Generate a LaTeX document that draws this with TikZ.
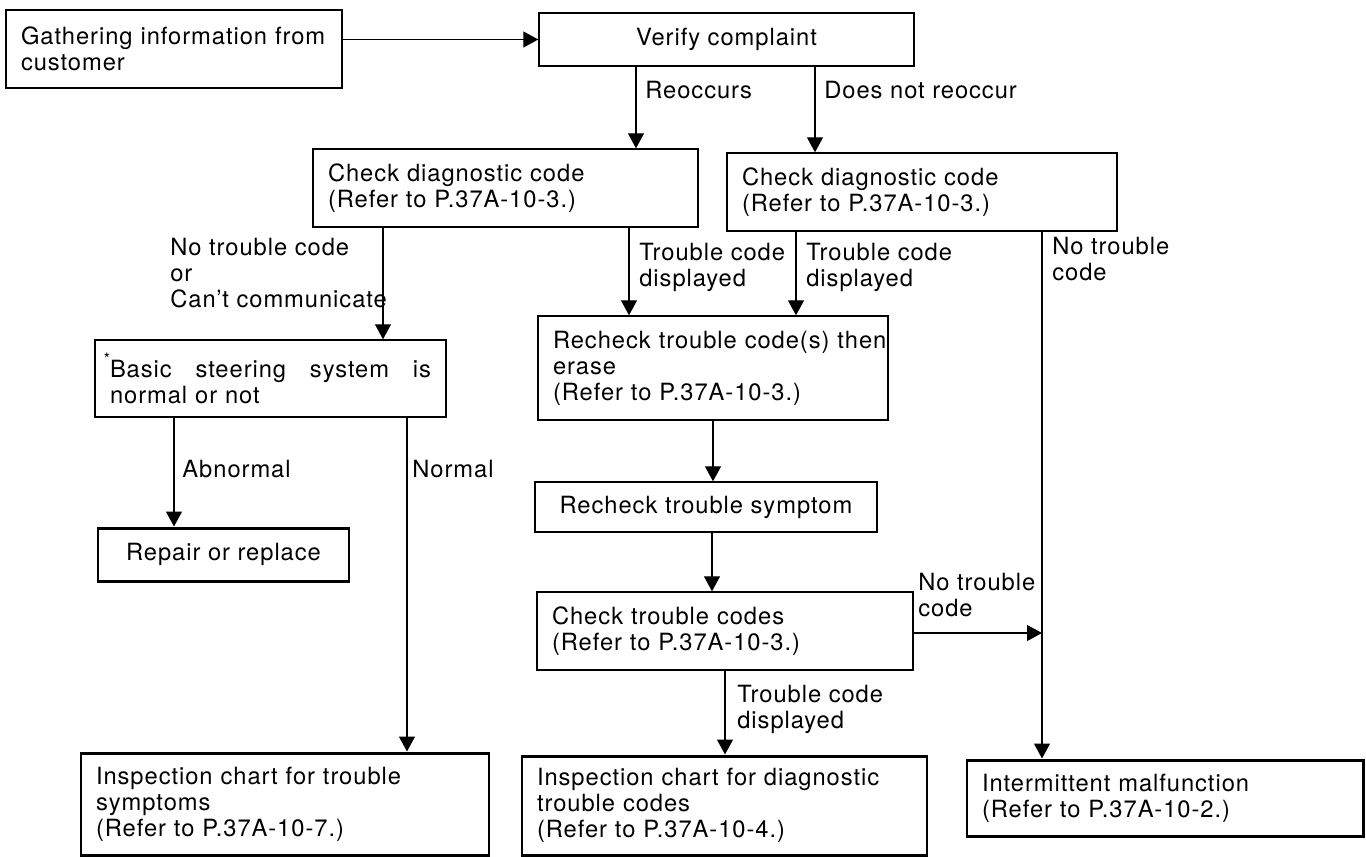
\documentclass[tikz,border=0pt]{standalone}
\usepackage{fontspec}
\setmainfont{TeX Gyre Heros}[LetterSpace=4.0]
\usepackage{tikz}
\usetikzlibrary{arrows.meta}
\usetikzlibrary{positioning}
\newcommand{\flowfont}{\fontsize{13.5}{14.8}\selectfont}
\tikzset{
	flowbox/.style={rectangle, draw, line width=0.8pt, align=left, inner xsep=0.3cm, inner ysep=0pt, font=\flowfont},
	endbox/.style={flowbox, line width=1.7pt},
	midbox/.style={flowbox, align=center},
	lbl/.style={align=left, anchor=north west, inner sep=0pt, font=\flowfont},
	arr/.style={-{Triangle[length=0.3cm, width=0.32cm]}, line width=0.7pt}
}
\begin{document}
\begin{tikzpicture}
		\useasboundingbox (0,0) rectangle (27.32,-17.14);
		\node[endbox, text width=6.12cm, minimum height=1.56cm] at (3.48,-0.98) (gather) {\mbox{Gathering information from}\\customer};
		\node[midbox, minimum width=7.5cm, minimum height=1.06cm] at (14.53,-0.79) (verify) {Verify complaint};
		\node[flowbox, text width=7.1cm, minimum height=1.56cm] at (10.11,-3.76) (chkA) {Check diagnostic code\\(Refer to P.37A-10-3.)};
		\node[flowbox, text width=7.2cm, minimum height=1.56cm] at (18.44,-3.84) (chkB) {Check diagnostic code\\(Refer to P.37A-10-3.)};
		\node[flowbox, text width=6.42cm, minimum height=1.54cm] at (5.41,-7.57) (basic) {\hbox to 6.42cm{\llap{\raisebox{1.1ex}{\small *}}Basic\hfill steering\hfill system\hfill is}\\normal or not};
		\node[flowbox, text width=6.4cm, minimum height=2.08cm] at (14.26,-7.36) (recheck) {\mbox{Recheck trouble code(s) then}\\erase\\(Refer to P.37A-10-3.)};
		\node[midbox, minimum width=6.84cm, minimum height=1.0cm] at (14.12,-10.14) (symptom) {Recheck trouble symptom};
		\node[flowbox, text width=6.92cm, minimum height=1.56cm] at (14.5,-12.62) (chkC) {Check trouble codes\\(Refer to P.37A-10-3.)};
		\node[endbox, align=center, minimum width=5.02cm, minimum height=1.06cm] at (4.47,-11.09) (repair) {Repair or replace};
		\node[endbox, text width=7.56cm, minimum height=2.04cm] at (5.7,-16.08) (insp1) {Inspection chart for trouble\\symptoms\\(Refer to P.37A-10-7.)};
		\node[endbox, text width=7.5cm, minimum height=1.98cm] at (14.49,-16.11) (insp2) {\mbox{Inspection chart for diagnostic}\\trouble codes\\(Refer to P.37A-10-4.)};
		\node[endbox, text width=7.32cm, minimum height=1.52cm] at (23.3,-15.96) (interm) {Intermittent malfunction\\(Refer to P.37A-10-2.)};
		
		%Labels
		\node[lbl] at (12.9,-1.62) (lreo) {Reoccurs};
		\node[lbl] at (16.48,-1.62) (lnoreo) {Does not reoccur};
		\node[lbl] at (3.4,-4.76) (lnocodeA) {No trouble code\\or\\Can't communicate};
		\node[lbl] at (12.78,-4.86) (lcodeA) {Trouble code\\displayed};
		\node[lbl] at (16.12,-4.86) (lcodeB) {Trouble code\\displayed};
		\node[lbl] at (21.04,-4.74) (lnocodeB) {No trouble\\code};
		\node[lbl] at (3.64,-9.2) (labn) {Abnormal};
		\node[lbl] at (8.24,-9.2) (lnorm) {Normal};
		\node[lbl] at (18.36,-11.46) (lnocodeC) {No trouble\\code};
		\node[lbl] at (14.74,-13.7) (lcodeC) {Trouble code\\displayed};
		
		%Lines
		\draw[arr] (verify.west -| gather.east) -- (verify.west);
		\draw[arr] ([xshift=-1.81cm]verify.south) -- ([xshift=-1.81cm]verify.south |- chkA.north);
		\draw[arr] ([xshift=1.77cm]verify.south) -- ([xshift=1.77cm]verify.south |- chkB.north);
		\draw[arr] ([xshift=-2.45cm]chkA.south) -- ([xshift=-2.45cm]chkA.south |- basic.north);
		\draw[arr] ([xshift=2.47cm]chkA.south) -- ([xshift=2.47cm]chkA.south |- recheck.north);
		\draw[arr] ([xshift=-2.52cm]chkB.south) -- ([xshift=-2.52cm]chkB.south |- recheck.north);
		\draw[arr] ([xshift=2.4cm]chkB.south) -- ([xshift=2.4cm]chkB.south |- interm.north);
		\draw[arr] ([xshift=-1.93cm]basic.south) -- ([xshift=-1.93cm]basic.south |- repair.north);
		\draw[arr] ([xshift=2.73cm]basic.south) -- ([xshift=2.73cm]basic.south |- insp1.north);
		\draw[arr] (recheck.south) -- (recheck.south |- symptom.north);
		\draw[arr] ([xshift=0.12cm]symptom.south) -- ([xshift=0.12cm]symptom.south |- chkC.north);
		\draw[arr] (chkC.south) -- (chkC.south |- insp2.north);
		
		\coordinate (join) at ([xshift=2.4cm,yshift=-0.04cm]chkB.south |- chkC.east);
		\draw[arr] (chkC.east |- join) -- (join);
		
	\end{tikzpicture}
\end{document}
